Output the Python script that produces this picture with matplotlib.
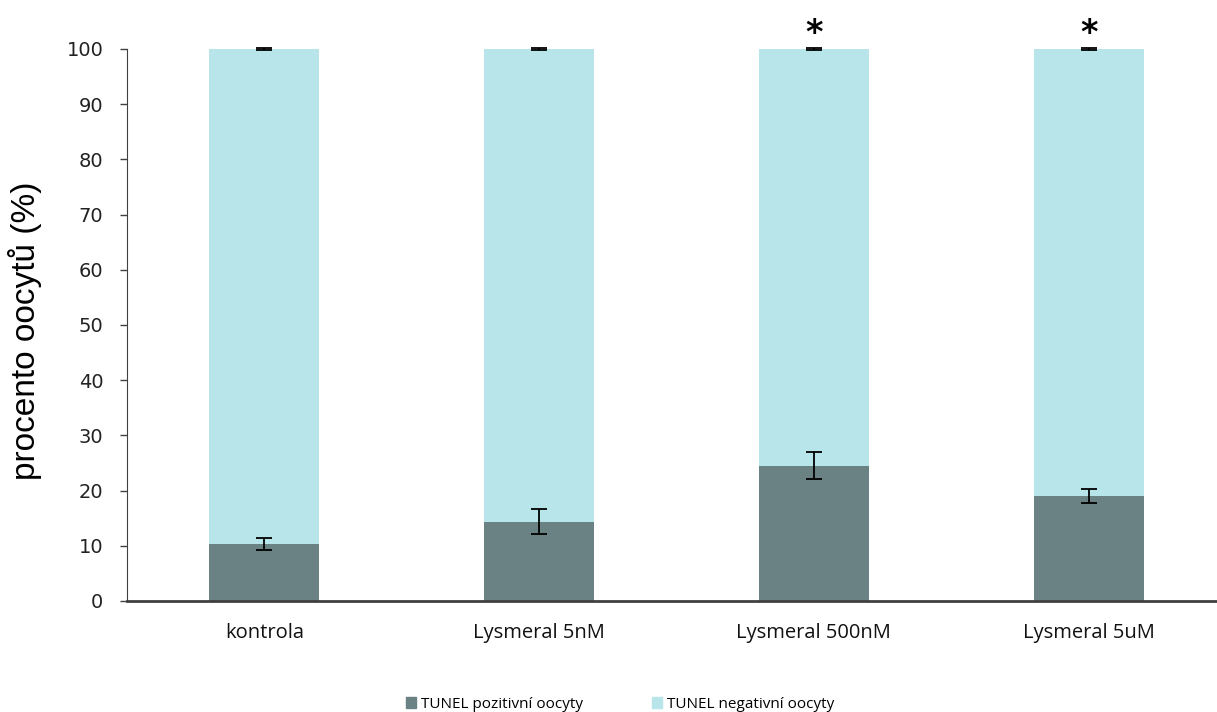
import matplotlib
matplotlib.use("Agg")
import matplotlib.pyplot as plt
from matplotlib.patches import Patch

categories = ["kontrola", "Lysmeral 5nM", "Lysmeral 500nM", "Lysmeral 5uM"]
positive = [10.4, 14.4, 24.5, 19.0]
positive_err = [1.1, 2.3, 2.45, 1.3]
negative = [100 - v for v in positive]
negative_err = [0.15, 0.15, 0.15, 0.15]
significant = [False, False, True, True]
series_labels = ["TUNEL pozitivní oocyty", "TUNEL negativní oocyty"]
ylabel = "procento oocytů (%)"

dark = "#6a8283"
light = "#b7e5e9"

fig = plt.figure(figsize=(12.17, 7.12), dpi=100)
ax = fig.add_axes([127 / 1217, 1 - 601 / 712, 1099 / 1217, 552 / 712])

x = list(range(len(categories)))
w = 0.4
ax.bar(x, positive, width=w, color=dark, zorder=2)
ax.bar(x, negative, width=w, bottom=positive, color=light, zorder=2)
ax.errorbar(x, positive, yerr=positive_err, fmt="none", ecolor="black",
            elinewidth=1.3, capsize=6, capthick=1.3, zorder=3)
tops = [p + n for p, n in zip(positive, negative)]
ax.errorbar(x, tops, yerr=negative_err, fmt="none", ecolor="black",
            elinewidth=1.3, capsize=6, capthick=1.3, zorder=3, clip_on=False)
for xi, s, t in zip(x, significant, tops):
    if s:
        ax.text(xi, t + 2.8, "*", ha="center", va="center", fontsize=24,
                fontweight="bold", family="DejaVu Sans", clip_on=False)

ax.set_xlim(-0.5, 3.5)
ax.set_ylim(0, 100)
ax.set_yticks(range(0, 101, 10))
ax.set_xticks(x)
ax.set_xticklabels(categories, family="Open Sans", fontsize=14.5, color="#111111")
ax.tick_params(axis="x", length=0, pad=16)
ax.tick_params(axis="y", length=5, width=1, color="#404040", labelsize=14, pad=12)
for lab in ax.get_yticklabels():
    lab.set_family("DejaVu Sans")
    lab.set_color("#222222")
ax.set_ylabel(ylabel, family="Liberation Sans", fontsize=24)
ax.yaxis.set_label_coords(-0.077, 0.49)
for s in ["top", "right"]:
    ax.spines[s].set_visible(False)
ax.spines["left"].set_color("#404040")
ax.spines["bottom"].set_color("#404040")
ax.spines["bottom"].set_linewidth(2)

handles = [Patch(color=dark), Patch(color=light)]
fig.legend(handles, series_labels, loc="center", bbox_to_anchor=(620 / 1217, 1 - 704 / 712),
           ncol=2, frameon=False, prop={"family": "Open Sans", "size": 11},
           handlelength=0.7, handleheight=0.7, handletextpad=0.3, columnspacing=4.5)

fig.savefig("out.png", dpi=100)
